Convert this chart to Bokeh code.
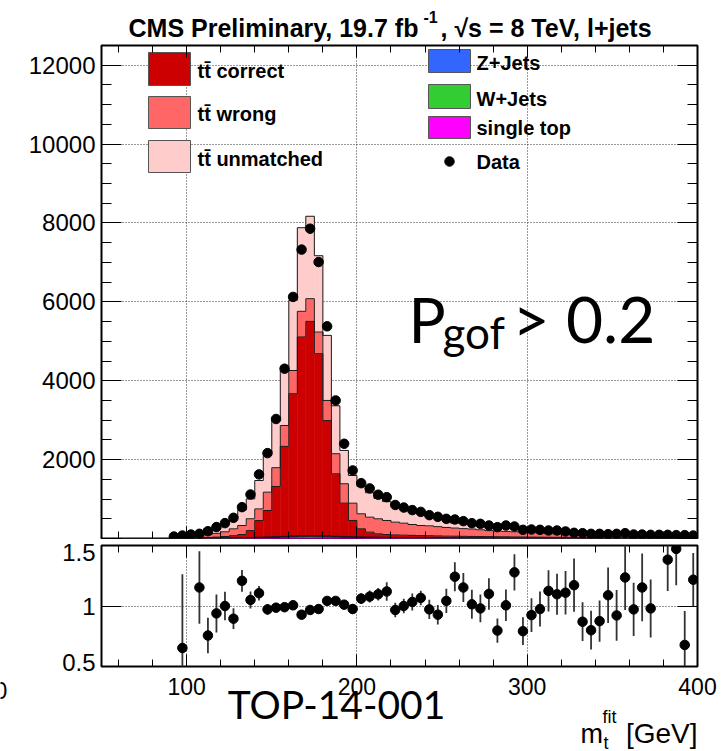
import math
from bokeh.plotting import figure
from bokeh.layouts import column
from bokeh.models import Range1d, FixedTicker, LinearAxis, Label
from bokeh.embed import file_html
from bokeh.resources import INLINE

nan = float("nan")

# ---------------- data (5 GeV bins from 50 to 400 GeV) ----------------
bin_edges = list(range(50, 401, 5))

single_top = [0, 0, 0, 0, 0, 0, 0, 0, 0, 3,
              0, 3, 5, 6, 8, 10, 12, 15, 18, 22,
              27, 32, 38, 42, 45, 42, 38, 33, 29, 26,
              23, 21, 19, 17, 16, 15, 14, 13, 12, 11,
              10, 10, 9, 9, 8, 8, 7, 7, 6, 6,
              6, 5, 5, 5, 4, 4, 4, 4, 3, 3,
              3, 3, 3, 2, 2, 2, 2, 2, 2, 2]
w_jets = [0, 0, 0, 0, 0, 0, 0, 0, 0, 1,
          0, 1, 2, 3, 4, 5, 6, 8, 10, 12,
          14, 17, 20, 24, 25, 24, 21, 18, 16, 14,
          12, 11, 10, 9, 8, 8, 7, 7, 6, 6,
          5, 5, 5, 4, 4, 4, 4, 3, 3, 3,
          3, 3, 2, 2, 2, 2, 2, 2, 2, 2,
          2, 2, 1, 1, 1, 1, 1, 1, 1, 1]
z_jets = [0, 0, 0, 0, 0, 0, 0, 0, 0, 0,
          0, 0, 1, 1, 1, 1, 1, 2, 2, 2,
          3, 3, 4, 4, 4, 4, 3, 3, 3, 2,
          2, 2, 2, 2, 1, 1, 1, 1, 1, 1,
          1, 1, 1, 1, 1, 1, 1, 1, 1, 1,
          1, 1, 1, 1, 1, 1, 1, 1, 1, 1,
          1, 1, 1, 1, 1, 1, 1, 1, 1, 1]
tt_correct = [0, 0, 0, 0, 0, 0, 0, 0, 0, 6,
              0, 6, 17, 25, 37, 54, 81, 175, 425, 674,
              1276, 2283, 3608, 5040, 5431, 4615, 2928, 1586, 848, 415,
              208, 127, 87, 72, 65, 61, 58, 54, 51, 47,
              44, 42, 40, 38, 37, 35, 33, 32, 30, 28,
              26, 25, 24, 22, 21, 19, 18, 17, 16, 14,
              14, 12, 12, 12, 11, 10, 9, 8, 8, 7]
tt_wrong = [0, 0, 0, 0, 0, 0, 0, 0, 0, 40,
            0, 40, 75, 95, 120, 175, 230, 300, 295, 465,
            475, 530, 590, 650, 575, 550, 510, 510, 492, 439,
            381, 380, 381, 357, 324, 304, 275, 255, 251, 235,
            220, 207, 195, 188, 170, 152, 145, 137, 130, 122,
            114, 106, 88, 85, 77, 64, 70, 66, 63, 45,
            60, 52, 48, 39, 45, 21, 29, 24, 66, 29]
tt_unmatched = [0, 0, 0, 0, 0, 0, 0, 0, 0, 60,
                0, 55, 145, 160, 205, 300, 390, 505, 720, 1015,
                1240, 1380, 1780, 2120, 2090, 1935, 1650, 1215, 845, 702,
                696, 619, 518, 479, 452, 389, 332, 296, 279, 280,
                200, 123, 132, 144, 160, 100, 170, 148, 68, 118,
                96, 86, 60, 70, 55, 33, 60, 58, 50, 36,
                48, 39, 39, 33, 35, 20, 25, 22, 47, 22]
data = [0, 0, 0, 0, 0, 0, 0, 0, 50, 75,
        100, 120, 185, 290, 390, 525, 795, 1115, 1625, 2165,
        3030, 4305, 6125, 7325, 7855, 7010, 5380, 3500, 2402, 1725,
        1403, 1270, 1110, 1048, 850, 785, 720, 675, 592, 550,
        499, 482, 440, 389, 372, 330, 287, 330, 304, 220,
        228, 220, 203, 203, 178, 144, 135, 118, 118, 110,
        118, 135, 101, 101, 93, 93, 93, 85, 85, 76]
ratio = [nan, nan, nan, nan, nan, nan, nan, nan, nan, 0.653,
         nan, 1.153, 0.756, 0.939, 1.0, 0.895, 1.208, 1.05, 1.106, 0.972,
         0.986, 0.99, 1.006, 0.928, 0.967, 0.975, 1.042, 1.042, 1.011, 0.975,
         1.061, 1.078, 1.097, 1.12, 0.967, 1.0, 1.033, 1.067, 0.972, 0.928,
         1.042, 1.242, 1.153, 1.014, 0.98, 1.1, 0.797, 1.006, 1.278, 0.792,
         0.925, 0.975, 1.125, 1.097, 1.11, 1.172, 0.87, 0.8, 0.875, 1.089,
         0.922, 1.236, 0.972, 1.153, 0.98, nan, 1.383, 1.472, 0.678, 1.217]
ratio_err = [nan, nan, nan, nan, nan, nan, nan, nan, nan, 0.61,
             nan, 0.30, 0.146, 0.157, 0.117, 0.086, 0.09, 0.07, 0.06, 0.045,
             0.035, 0.03, 0.025, 0.022, 0.02, 0.022, 0.025, 0.03, 0.035, 0.04,
             0.045, 0.05, 0.052, 0.076, 0.06, 0.06, 0.07, 0.06, 0.08, 0.08,
             0.1, 0.12, 0.12, 0.12, 0.115, 0.13, 0.1, 0.13, 0.15, 0.115,
             0.14, 0.145, 0.17, 0.17, 0.18, 0.22, 0.16, 0.16, 0.17, 0.23,
             0.21, 0.27, 0.22, 0.28, 0.24, nan, 0.26, 0.3, 0.28, 0.22]

y_ticks_main = [0, 2000, 4000, 6000, 8000, 10000, 12000]
x_ticks = [100, 200, 300, 400]
ratio_ticks = [0.5, 1.0, 1.5]
ratio_tick_labels = {0.53: "0.5", 1.0: "1", 1.445: "1.5"}

# ---------------- geometry (canvas pixels) ----------------
W, H = 728, 751
FL, FR, FT1, FB1, FT2, FB2 = 101, 697, 45, 538, 545, 666
P1_BOTTOM = 1
XMIN, XMAX, YMAX1 = 50, 400, 12500


def X(px):
    return XMIN + (px - FL) * (XMAX - XMIN) / (FR - FL)


def Y1(py):
    return (FB1 - py) * YMAX1 / (FB1 - FT1)


FONT = "Liberation Sans"
nb = len(bin_edges) - 1
centers = [bin_edges[i] + 2.5 for i in range(nb)]


def style_axis(ax, ticks, minor, major_in, minor_in, labels, size="24px", standoff=6):
    ax.ticker = FixedTicker(ticks=ticks, minor_ticks=minor)
    ax.major_tick_in = major_in
    ax.major_tick_out = 0
    ax.minor_tick_in = minor_in
    ax.minor_tick_out = 0
    ax.axis_line_color = None
    ax.major_tick_line_color = "black"
    ax.minor_tick_line_color = "black"
    ax.major_tick_line_width = 1
    ax.minor_tick_line_width = 1
    if labels:
        ax.major_label_text_font = FONT
        ax.major_label_text_font_size = size
        ax.major_label_text_color = "black"
        ax.major_label_standoff = standoff
    else:
        ax.major_label_text_font_size = "0px"
        ax.major_label_text_alpha = 0
        ax.major_label_standoff = 0


x_minor = [v for v in range(60, 400, 20) if v % 100 != 0]
y_minor = [v for v in range(500, 12500, 500) if v % 2000 != 0]

# ---------------- main panel ----------------
p1 = figure(frame_width=FR - FL, frame_height=FB1 - FT1,
            min_border_left=FL, min_border_right=W - FR,
            min_border_top=FT1, min_border_bottom=P1_BOTTOM,
            x_range=Range1d(XMIN, XMAX), y_range=Range1d(0, YMAX1),
            output_backend="svg", toolbar_location=None)
p1.outline_line_color = "black"
p1.outline_line_width = 2

style_axis(p1.xaxis[0], x_ticks, x_minor, 12, 7, False)
style_axis(p1.yaxis[0], y_ticks_main, y_minor, 20, 10, True, "24px", 6)
p1.yaxis[0].major_label_overrides = {0: ""}
ax_r = LinearAxis()
style_axis(ax_r, y_ticks_main, y_minor, 20, 10, False)
p1.add_layout(ax_r, "right")
ax_t = LinearAxis()
style_axis(ax_t, x_ticks, x_minor, 12, 7, False)
p1.add_layout(ax_t, "above")

for g in (p1.xgrid, p1.ygrid):
    g.grid_line_color = "#333333"
    g.grid_line_dash = "1 2"
    g.grid_line_width = 1
p1.xgrid.ticker = FixedTicker(ticks=[100, 200, 300])
p1.ygrid.ticker = FixedTicker(ticks=[2000, 4000, 6000, 8000, 10000, 12000])

layers = [(single_top, "#ff00ff"), (w_jets, "#33cc33"), (z_jets, "#3366ff"),
          (tt_correct, "#cc0000"), (tt_wrong, "#ff6666"), (tt_unmatched, "#ffcccc")]
cum = [0.0] * nb
tops = []
for vals, col in layers:
    top = [c + v for c, v in zip(cum, vals)]
    idx = [i for i in range(nb) if vals[i] > 0]
    p1.quad(left=[bin_edges[i] for i in idx], right=[bin_edges[i + 1] for i in idx],
            bottom=[cum[i] for i in idx], top=[top[i] for i in idx],
            fill_color=col, line_color=col, line_width=0.6)
    tops.append(top)
    cum = top
for top in tops:
    p1.step(x=bin_edges, y=top + [top[-1]], mode="after", line_color="#1a1a1a", line_width=1)

dx = [centers[i] for i in range(nb) if data[i] > 0]
dy = [data[i] for i in range(nb) if data[i] > 0]
p1.scatter(dx, dy, size=9.5, color="black", marker="circle")

# legend (inside the frame)
left_boxes = [(52, 85, "#cc0000", "tt\u0304 correct", 70),
              (96, 128, "#ff6666", "tt\u0304 wrong", 113),
              (140, 172, "#ffcccc", "tt\u0304 unmatched", 158)]
right_boxes = [(49, 72, "#3366ff", "Z+Jets", 62),
               (84, 108, "#33cc33", "W+Jets", 98),
               (116, 138, "#ff00ff", "single top", 127)]
for (t, b, col, txt_, yc) in left_boxes:
    p1.quad(left=[X(148)], right=[X(190)], top=[Y1(t)], bottom=[Y1(b)],
            fill_color=col, line_color="#555555", line_width=1)
    p1.add_layout(Label(x=X(197), y=Y1(yc), text=txt_, text_font=FONT, text_font_size="20px",
                        text_font_style="bold", text_baseline="middle", text_color="black"))
for (t, b, col, txt_, yc) in right_boxes:
    p1.quad(left=[X(428)], right=[X(470)], top=[Y1(t)], bottom=[Y1(b)],
            fill_color=col, line_color="#555555", line_width=1)
    p1.add_layout(Label(x=X(476), y=Y1(yc), text=txt_, text_font=FONT, text_font_size="20px",
                        text_font_style="bold", text_baseline="middle", text_color="black"))
p1.scatter([X(449)], [Y1(161)], size=9.5, color="black", marker="circle")
p1.add_layout(Label(x=X(476), y=Y1(161), text="Data", text_font=FONT, text_font_size="20px",
                    text_font_style="bold", text_baseline="middle", text_color="black"))

# P_gof annotation
p1.add_layout(Label(x=X(408), y=Y1(318), text="P", text_font="Lato", text_font_size="62px",
                    text_baseline="alphabetic", text_color="black"))
p1.add_layout(Label(x=X(442), y=Y1(331), text="gof", text_font="Lato", text_font_size="44px",
                    text_baseline="alphabetic", text_color="black"))
p1.add_layout(Label(x=X(512), y=Y1(318), text="> 0.2", text_font="Lato", text_font_size="64px",
                    text_baseline="alphabetic", text_color="black"))

# ---------------- ratio panel ----------------
P2_TOP = FT2 - (FB1 + P1_BOTTOM)
p2 = figure(frame_width=FR - FL, frame_height=FB2 - FT2,
            min_border_left=FL, min_border_right=W - FR,
            min_border_top=P2_TOP, min_border_bottom=H - FB2,
            x_range=Range1d(XMIN, XMAX), y_range=Range1d(0.5, 1.5),
            output_backend="svg", toolbar_location=None)
p2.outline_line_color = "black"
p2.outline_line_width = 2
style_axis(p2.xaxis[0], x_ticks, x_minor, 12, 7, True, "23px", 11)
style_axis(p2.yaxis[0], ratio_ticks, [], 20, 10, False)
ax_lab2 = LinearAxis()
style_axis(ax_lab2, list(ratio_tick_labels.keys()), [], 0, 0, True, "24px", 6)
ax_lab2.major_label_overrides = ratio_tick_labels
p2.add_layout(ax_lab2, "left")
ax_r2 = LinearAxis()
style_axis(ax_r2, ratio_ticks, [], 20, 10, False)
p2.add_layout(ax_r2, "right")
ax_t2 = LinearAxis()
style_axis(ax_t2, x_ticks, x_minor, 12, 7, False)
p2.add_layout(ax_t2, "above")
for g in (p2.xgrid, p2.ygrid):
    g.grid_line_color = "#333333"
    g.grid_line_dash = "1 2"
    g.grid_line_width = 1
p2.xgrid.ticker = FixedTicker(ticks=[100, 200, 300])
p2.ygrid.ticker = FixedTicker(ticks=[1.0])

rx, ry, re_ = [], [], []
for i in range(nb):
    if not math.isnan(ratio[i]):
        rx.append(centers[i]); ry.append(ratio[i]); re_.append(ratio_err[i])
p2.segment(x0=rx, y0=[r - e for r, e in zip(ry, re_)], x1=rx, y1=[r + e for r, e in zip(ry, re_)],
           line_color="#333333", line_width=1.8)
p2.scatter(rx, ry, size=9.5, color="black", marker="circle")

# ---------------- transparent text overlay over the whole page ----------------
pt = figure(width=W, height=H, min_border=0, x_range=Range1d(0, W), y_range=Range1d(H, 0),
            x_axis_location=None, y_axis_location=None, title=None, output_backend="svg",
            toolbar_location=None, margin=(-H, 0, 0, 0))
pt.outline_line_color = None
pt.background_fill_alpha = 0
pt.border_fill_alpha = 0
pt.grid.visible = False


def txt(x, y, s, size, font=FONT, style="normal", align="left"):
    pt.add_layout(Label(x=x, y=y, text=s, text_font=font, text_font_size=size,
                        text_font_style=style, text_align=align, text_baseline="alphabetic",
                        text_color="black"))


txt(128, 27, "CMS Preliminary, 19.7 fb", "25px", style="bold")
txt(423, 16, "-1", "16px", style="bold")
txt(440, 27, ",  \u221as = 8 TeV, l+jets", "25px", style="bold")
txt(-6, 690, "0", "23px")
txt(336, 703, "TOP-14-001", "39px", font="Lato", align="center")
txt(580, 733, "m", "27px")
txt(602, 716, "fit", "18px")
txt(603, 742, "t", "18px")
txt(697, 733, "[GeV]", "28px", align="right")

layout = column(column(p1, p2, spacing=0), pt, spacing=0)
open("out.html", "w").write(file_html(layout, INLINE))
